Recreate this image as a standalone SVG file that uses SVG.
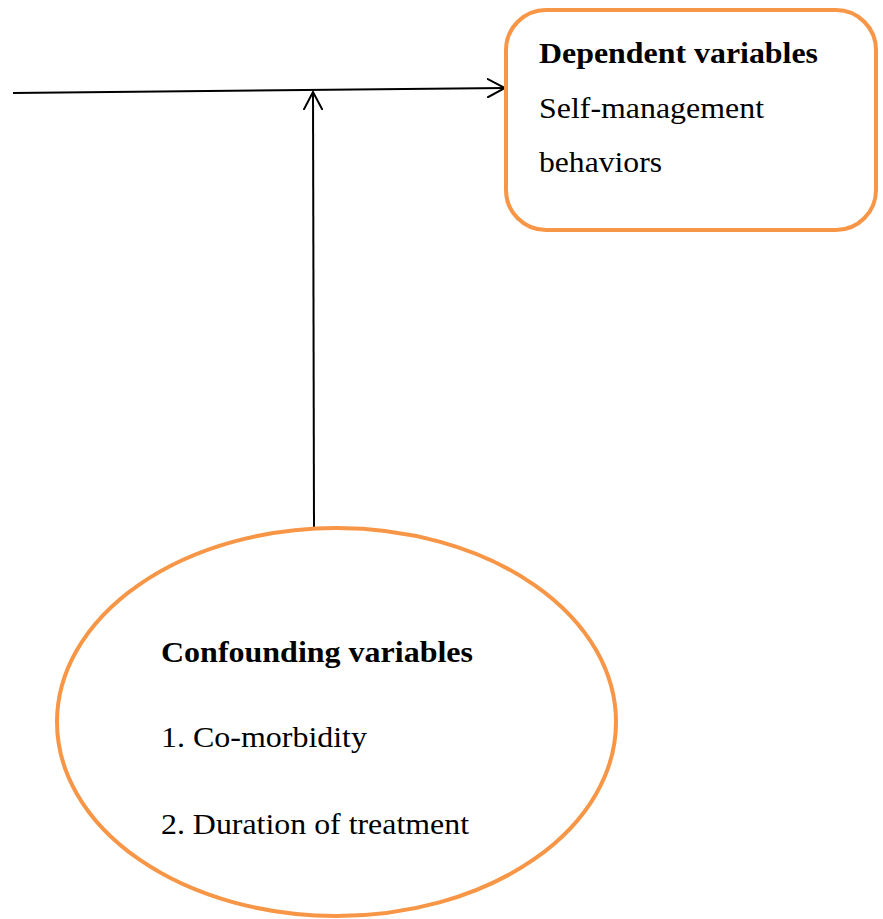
<svg xmlns="http://www.w3.org/2000/svg" width="883" height="919" viewBox="0 0 883 919">
<style>
.shape{fill:#ffffff;stroke:#F79646;stroke-width:4}
.conn{stroke:#000000;stroke-width:2;fill:none}
.t{font-family:"Liberation Serif","Times New Roman",serif;fill:#000000}
.b{font-weight:bold}
</style>
<defs>
<marker id="open" viewBox="0 0 20 20" refX="18" refY="10" markerWidth="20" markerHeight="20" markerUnits="userSpaceOnUse" orient="auto">
<path d="M0,0.5 L18,10 L0,19.5" fill="none" stroke="#000000" stroke-width="2"/>
</marker>
</defs>
<rect width="883" height="919" fill="#ffffff"/>
<g id="connectors">
<line class="conn" x1="13" y1="93" x2="505" y2="88" marker-end="url(#open)"/>
<line class="conn" x1="314" y1="528" x2="313" y2="92" marker-end="url(#open)"/>
</g>
<g id="dependent">
<rect class="shape" x="506" y="10" width="370" height="220" rx="40" ry="40"/>
<text class="t b" x="539" y="63" font-size="29" textLength="279" lengthAdjust="spacingAndGlyphs">Dependent variables</text>
<text class="t" x="539" y="118" font-size="29" textLength="225" lengthAdjust="spacingAndGlyphs">Self-management</text>
<text class="t" x="539" y="172" font-size="29" textLength="123" lengthAdjust="spacingAndGlyphs">behaviors</text>
</g>
<g id="confounding">
<ellipse class="shape" cx="336.5" cy="722" rx="279.5" ry="194"/>
<text class="t b" x="161" y="662" font-size="30" textLength="312" lengthAdjust="spacingAndGlyphs">Confounding variables</text>
<text class="t" x="161" y="747" font-size="30" textLength="206" lengthAdjust="spacingAndGlyphs">1. Co-morbidity</text>
<text class="t" x="161" y="834" font-size="30" textLength="308" lengthAdjust="spacingAndGlyphs">2. Duration of treatment</text>
</g>
</svg>
